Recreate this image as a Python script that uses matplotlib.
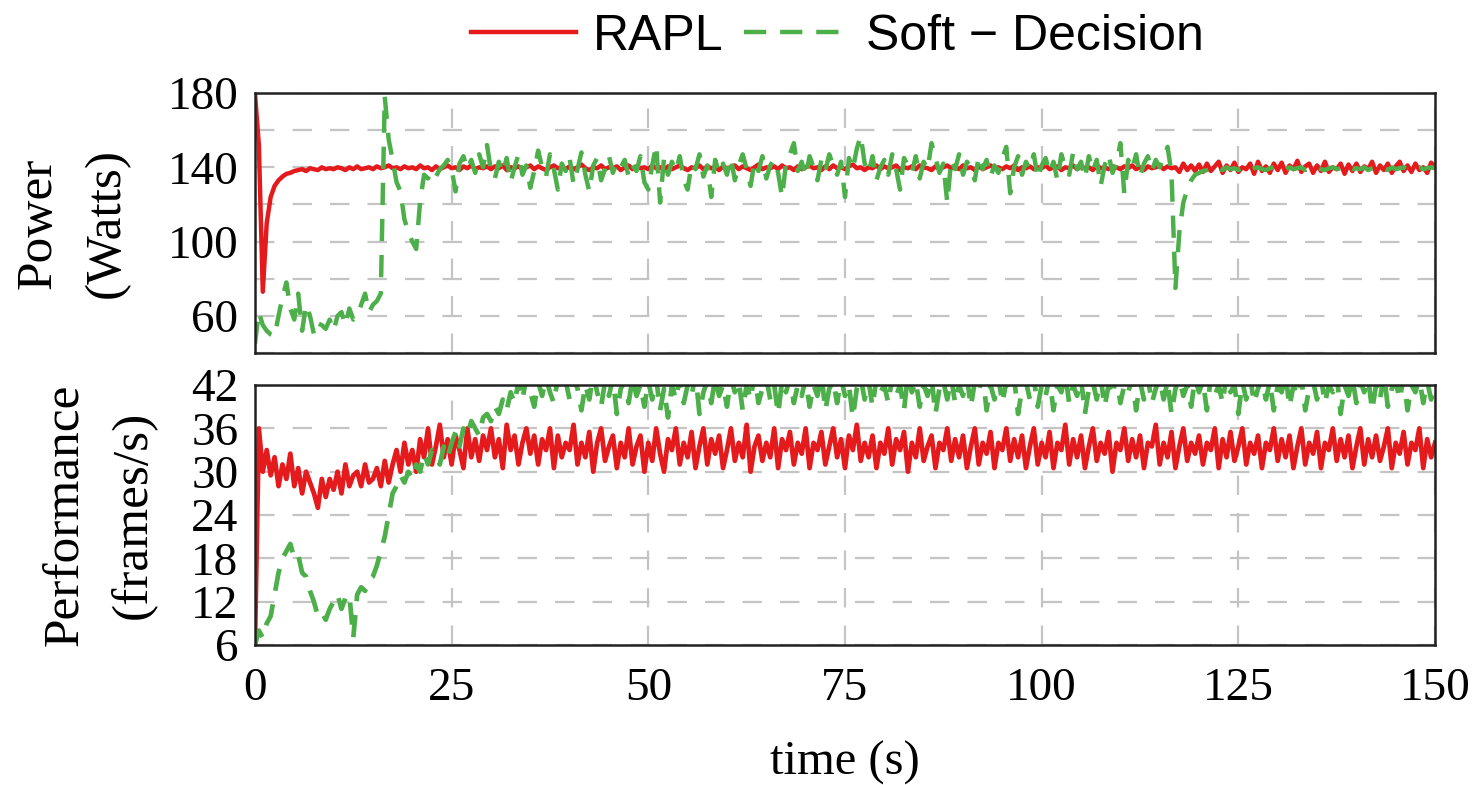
import numpy as np
import matplotlib
matplotlib.use('Agg')
import matplotlib.pyplot as plt

# sampling: one reading every 0.5 s over 150 s
step = 0.5

# power (W), RAPL
power_rapl = [
    180, 152, 73, 110, 124, 130, 133, 135, 136.5, 137, 138, 138.5, 139, 138, 139.5, 139, 138.5, 140, 139, 139.5,
    139, 140, 139.5, 138.5, 140, 139, 140.5, 139, 139.5, 140, 139, 140.5, 139.5, 140, 141, 139.5, 140, 139, 140.5, 139.5,
    140, 139, 141, 139.5, 140, 138.5, 140.5, 139, 140, 141, 139.5, 140, 138.5, 140.5, 139.5, 141, 139, 140, 139.5, 140.5,
    139, 140.5, 139.5, 141, 138.5, 140, 139.5, 140.5, 139, 140, 141, 139, 140.5, 139.5, 138.5, 140, 141, 139.5, 140, 139,
    140.5, 139, 140, 141.5, 139.5, 138.5, 140, 139.5, 141, 139, 140, 139.5, 140.5, 138.5, 140, 141, 139, 140.5, 139.5, 140,
    139, 141, 139.5, 140, 138.5, 140.5, 139, 140, 141, 139.5, 138.5, 140, 139.5, 141, 139, 140.5, 139.5, 140, 138.5, 140.5,
    139.5, 140, 141, 139, 140.5, 139.5, 138.5, 140, 141.5, 139, 140, 139.5, 140.5, 139, 141, 139.5, 140, 138.5, 140.5, 139,
    140, 141, 139.5, 140, 138.5, 140.5, 139, 141, 139.5, 140, 139, 140.5, 141.5, 139.5, 140, 138.5, 140, 139.5, 141, 139,
    140.5, 139.5, 140, 141, 138.5, 140, 139.5, 140.5, 139, 141, 140, 139.5, 138.5, 140.5, 139, 140, 141, 139.5, 140, 139,
    141, 139.5, 140, 138.5, 140.5, 139, 140, 141, 139.5, 140, 139, 140.5, 139.5, 141, 138.5, 140, 139.5, 140.5, 139, 140,
    139.5, 141, 139, 140, 140.5, 138.5, 140, 139.5, 141, 139, 140.5, 139.5, 140, 138.5, 141, 139.5, 140, 139, 140.5, 140,
    139, 140.5, 139.5, 141, 139, 140, 138.5, 140.5, 139.5, 140, 141, 139, 140.5, 139.5, 140, 137.5, 142, 138.5, 141, 138,
    141.5, 137.5, 142, 138, 140.5, 143, 137, 141, 138.5, 142.5, 137.5, 140, 139, 142, 136.5, 143, 138, 140.5, 137, 142,
    138.5, 142.5, 137, 141, 139, 143.5, 137.5, 140.5, 142, 137, 141, 138, 143, 137.5, 140, 139, 142, 136.5, 141.5, 138,
    142, 137.5, 140.5, 139, 143, 137, 141, 138.5, 142, 137, 140.5, 143, 138, 141, 137.5, 142, 138.5, 140, 137, 142.5,
    140,
]

# power (W), soft-decision
power_soft = [
    45, 62, 55, 52, 50, 49, 60, 70, 78, 64, 58, 72, 52, 66, 60, 50, 56, 55, 53, 58,
    52, 60, 62, 55, 64, 58, 60, 66, 72, 62, 66, 68, 72, 178, 155, 144, 132, 127, 112, 105,
    100, 96, 122, 136, 134, 138, 135, 139, 141, 144, 139, 127, 142, 146, 139, 144, 137, 147, 140, 152,
    138, 134, 143, 137, 145, 132, 140, 147, 136, 141, 129, 138, 149, 140, 135, 147, 139, 128, 142, 138,
    145, 131, 139, 148, 136, 127, 141, 145, 133, 139, 146, 137, 143, 140, 144, 135, 141, 138, 146, 132,
    128, 141, 152, 121, 145, 136, 143, 138, 146, 133, 128, 142, 139, 147, 135, 141, 124, 144, 137, 142,
    136, 145, 133, 141, 147, 139, 130, 143, 138, 146, 134, 141, 144, 137, 124, 142, 147, 153, 138, 143,
    135, 146, 140, 133, 144, 138, 147, 141, 136, 143, 124, 145, 139, 150, 157, 142, 137, 146, 133, 140,
    144, 136, 147, 139, 128, 145, 141, 137, 146, 134, 143, 139, 153, 145, 137, 142, 121, 144, 139, 147,
    136, 143, 140, 133, 146, 139, 144, 135, 141, 137, 145, 151, 126, 140, 146, 136, 143, 139, 147, 134,
    141, 145, 137, 143, 133, 147, 140, 136, 148, 139, 143, 134, 146, 138, 144, 130, 141, 147, 137, 142,
    153, 126, 144, 139, 147, 135, 142, 146, 138, 144, 140, 145, 151, 137, 75, 105, 121, 128, 133, 136,
    137, 138, 138.5, 139, 138, 139.5, 138.5, 140, 139, 139.5, 138.5, 140, 139, 138.5, 139.5, 140, 139, 138.5, 139.5, 140,
    139, 139.5, 138.5, 140, 139, 139.5, 140, 138.5, 139.5, 139, 140, 139, 138.5, 139.5, 140, 139, 139.5, 138.5, 140, 139,
    139.5, 139, 140, 138.5, 139.5, 140, 139, 139.5, 138.5, 140, 139, 139.5, 140, 139, 138.5, 139.5, 140, 139, 139.5, 140,
    139.5,
]

# performance (frames/s), RAPL
perf_rapl = [
    6, 36, 30, 33, 29.5, 32, 28, 31, 29, 32.5, 28, 30.5, 27, 30, 28.5, 27, 25, 29, 26.5, 29,
    27.5, 30, 27, 31, 28, 29.5, 30, 28, 31, 28.5, 29, 30.5, 28, 31.5, 28.5, 31, 33, 30, 34, 31,
    33, 30, 34.5, 32, 36, 31, 33.5, 36.5, 32, 34.5, 31, 35, 33, 30.5, 36, 32, 34.5, 31.5, 35, 33,
    36, 32, 34.5, 30.5, 36.5, 33, 35, 31, 34, 36, 32.5, 35, 31, 34.5, 33, 36, 30.5, 35, 32, 34,
    33, 36.5, 31, 34, 32, 35.5, 30, 34, 36, 31.5, 33.5, 35, 30.5, 34, 32, 36, 31, 33.5, 35, 30,
    34, 31.5, 36, 32.5, 30, 34.5, 33, 36, 31, 34, 32, 35.5, 30.5, 33.5, 36, 31, 34.5, 32.5, 35, 30.5,
    33, 36, 31.5, 34, 32, 36.5, 30, 33.5, 35, 31.5, 34, 32, 36, 30.5, 34.5, 33, 35.5, 31, 34, 32.5,
    36, 30.5, 34, 33, 35.5, 31, 33.5, 36, 32, 34.5, 30.5, 35, 33, 36.5, 31.5, 34, 32, 35, 30.5, 34,
    32.5, 36, 31, 34.5, 33, 35.5, 30, 34, 32, 36, 31.5, 33.5, 35, 30.5, 34, 33, 36, 31.5, 34.5, 32,
    35, 30.5, 33.5, 36, 31, 34, 32.5, 35.5, 30.5, 34, 33, 36, 31.5, 34.5, 32, 35, 30.5, 33.5, 36, 31,
    34, 32, 35.5, 30.5, 34, 33, 36.5, 31, 34.5, 32, 35, 30.5, 33.5, 36, 31.5, 34, 32.5, 35.5, 30, 34,
    33, 36, 31.5, 34.5, 32, 35, 30.5, 34, 33.5, 36.5, 31, 34, 32, 35.5, 30.5, 33.5, 36, 31.5, 34, 32.5,
    35, 31, 34, 33, 36, 30.5, 34.5, 32, 35.5, 31.5, 33.5, 36, 31, 34, 32.5, 35, 30.5, 34, 33, 36,
    31.5, 34.5, 32, 35, 30.5, 33.5, 36, 31, 34, 32.5, 35.5, 30.5, 34, 33, 36, 31.5, 34.5, 32, 35, 30.5,
    33.5, 36, 31, 34.5, 32, 35, 31.5, 33.5, 36, 30.5, 34, 32.5, 35.5, 31, 34, 33, 36, 30.5, 34.5, 32,
    34,
]

# performance (frames/s), soft-decision
perf_soft = [
    6, 8, 7, 9, 10, 13, 16, 18, 19, 20, 18, 18.5, 16, 15.5, 13.5, 12, 10, 10.5, 9.5, 11,
    12, 13, 11, 12.5, 13, 7, 13, 14, 13.5, 15, 15.5, 17, 19, 21, 24, 27, 28, 29.5, 28.5, 30,
    29, 31, 30, 32.5, 31, 33, 32, 31, 33.5, 32, 34, 35.5, 33.5, 36, 35, 37, 36, 35, 37.5, 38,
    37, 39, 38, 40, 38.5, 41, 39.5, 42.5, 40, 43, 41, 39, 42.5, 40.5, 43, 41, 39.5, 43, 41, 42.5,
    40, 43, 41.5, 38.5, 42, 40, 43.5, 41, 39, 42.5, 40.5, 43, 38, 41.5, 42.5, 39.5, 43, 40.5, 42, 39,
    42.5, 40, 43, 38.5, 41.5, 37.5, 42, 40, 43, 39.5, 42, 40.5, 43.5, 38, 41, 42.5, 39.5, 43, 40.5, 42,
    39, 43, 41, 42.5, 38.5, 42, 40, 43.5, 39.5, 41.5, 43, 40, 42, 38, 42.5, 41, 43, 39.5, 42, 40.5,
    43, 39, 42, 40.5, 43.5, 38.5, 41.5, 42.5, 39.5, 43, 40.5, 42, 37.5, 41.5, 43, 40, 42.5, 39, 43, 41,
    42, 39.5, 43, 40.5, 42, 38.5, 43.5, 41, 42.5, 39, 42, 40.5, 43, 38, 41.5, 42.5, 40, 43, 39.5, 42,
    40.5, 43, 39, 42.5, 41, 43.5, 38.5, 42, 40, 43, 39.5, 42.5, 41, 43, 38, 41.5, 42.5, 40, 43, 39,
    42, 40.5, 43, 38.5, 42, 41, 43.5, 39.5, 42, 40.5, 43, 38, 41.5, 42.5, 40, 43, 39, 42, 40.5, 43.5,
    39.5, 42, 41, 43, 38.5, 42.5, 40, 43, 39.5, 41.5, 43, 40, 42.5, 38, 41.5, 43, 40.5, 42, 39, 43,
    41, 42.5, 38.5, 43, 40.5, 42, 39.5, 43.5, 41, 42, 38, 42.5, 40, 43, 39.5, 41.5, 43, 40, 42.5, 38.5,
    42, 41, 43.5, 39, 42, 40.5, 43, 38.5, 41.5, 42.5, 40, 43, 39.5, 42, 41, 43.5, 38, 42, 40.5, 43,
    39.5, 42.5, 41, 43, 38.5, 42, 40, 43.5, 39, 41.5, 42.5, 40, 43, 38.5, 42, 41, 43, 39.5, 42.5, 40,
    42,
]

time = np.arange(len(power_rapl)) * step

red = '#e41a1c'
green = '#4daf4a'
plt.rcParams['font.family'] = ['Liberation Serif', 'DejaVu Serif']
plt.rcParams['lines.scale_dashes'] = False

fig = plt.figure(figsize=(14.77, 7.85), dpi=100)
ax1 = fig.add_axes([0.1726, 0.5503, 0.7990, 0.3312])
ax2 = fig.add_axes([0.1726, 0.1783, 0.7990, 0.3312])

ax1.plot(time, power_rapl, color=red, lw=3.2, label='RAPL')
ax1.plot(time, power_soft, color=green, lw=3.2, ls=(0, (16, 10)), label='Soft \u2212 Decision')
ax2.plot(time, perf_rapl, color=red, lw=3.4)
ax2.plot(time, perf_soft, color=green, lw=3.4, ls=(0, (16, 10)))

ax1.set_ylim(40, 180)
ax1.set_yticks([60, 100, 140, 180])
ax1.set_yticks([40, 80, 120, 160], minor=True)
ax2.set_ylim(6, 42)
ax2.set_yticks([6, 12, 18, 24, 30, 36, 42])

for ax in (ax1, ax2):
    ax.set_xlim(0, 150)
    ax.set_xticks([0, 25, 50, 75, 100, 125, 150])
    ax.grid(True, which='both', color='#c4c4c4', lw=1.6, ls=(0, (14, 13)))
    ax.set_axisbelow(True)
    ax.tick_params(which='both', length=0, labelsize=34, pad=12)
    for s in ax.spines.values():
        s.set_linewidth(1.8)
        s.set_color('#222222')

ax1.tick_params(axis='x', labelbottom=False)
ax2.tick_params(axis='x', pad=16)

ax1.set_ylabel('Power\n(Watts)', fontsize=37, linespacing=1.6)
ax2.set_ylabel('Performance\n(frames/s)', fontsize=37, linespacing=1.6)
ax2.set_xlabel('time (s)', fontsize=35, labelpad=22)
ax1.yaxis.set_label_coords(-0.106, 0.5)
ax2.yaxis.set_label_coords(-0.083, 0.5)

fig.legend(loc='center', bbox_to_anchor=(0.567, 0.953), ncol=2, frameon=False,
           prop={'family': 'Liberation Sans', 'size': 36}, handlelength=2.1,
           handletextpad=0.35, columnspacing=0.4)

fig.savefig('out.png', dpi=100)
